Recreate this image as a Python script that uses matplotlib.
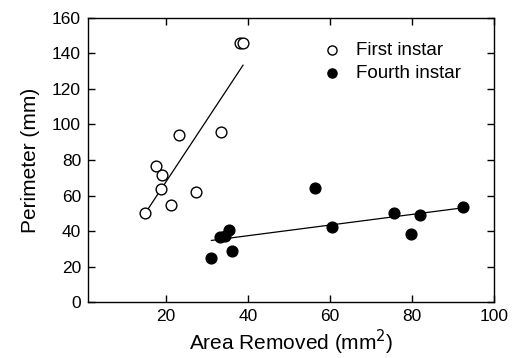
import numpy as np
import matplotlib
matplotlib.use("Agg")
import matplotlib.pyplot as plt

plt.rcParams['font.family'] = ['Liberation Sans', 'DejaVu Sans']

# first instar (open circles)
area_first = [38.0, 38.8, 23.2, 33.5, 17.5, 19.1, 18.9, 27.4, 14.9, 21.3]
perim_first = [146, 146, 94.3, 95.8, 76.8, 71.7, 63.5, 62.1, 50.0, 54.6]

# fourth instar (filled circles)
area_fourth = [31.1, 33.2, 34.4, 35.5, 36.2, 56.4, 60.4, 75.6, 79.7, 82.0, 92.5]
perim_fourth = [25.0, 36.4, 37.2, 40.4, 28.9, 64.0, 42.1, 50.0, 38.3, 48.8, 53.3]

fig = plt.figure(figsize=(5.15, 3.58), dpi=100)
ax = fig.add_axes([0.171, 0.156, 0.788, 0.794])

# regression lines
for xs, ys in [(area_first, perim_first), (area_fourth, perim_fourth)]:
    x = np.array(xs)
    y = np.array(ys)
    c = np.polyfit(x, y, 1)
    xx = np.array([x.min(), x.max()])
    ax.plot(xx, np.polyval(c, xx), color='k', linewidth=0.9, zorder=1)

ax.scatter(area_first, perim_first, s=60, facecolors='white', edgecolors='k',
           linewidths=1.0, label='First instar', zorder=2)
ax.scatter(area_fourth, perim_fourth, s=60, facecolors='k', edgecolors='k',
           linewidths=1.0, label='Fourth instar', zorder=2)

ax.set_xlim(1, 100)
ax.set_ylim(0, 160)
ax.set_xticks([20, 40, 60, 80, 100])
ax.set_yticks(np.arange(0, 161, 20))
ax.tick_params(direction='in', top=True, right=True, length=5, labelsize=12.5,
               width=1, pad=5)
for s in ax.spines.values():
    s.set_linewidth(1)

ax.set_xlabel('Area Removed (mm$^2$)', fontsize=15, labelpad=3)
ax.set_ylabel('Perimeter (mm)', fontsize=15, labelpad=9)

ax.legend(loc='upper left', frameon=False, fontsize=13.5, handletextpad=0.8,
          handlelength=1.0, borderpad=0, borderaxespad=0, markerscale=0.85,
          bbox_to_anchor=(0.578, 0.915), labelspacing=0.32)

fig.savefig('out.png', dpi=100)
